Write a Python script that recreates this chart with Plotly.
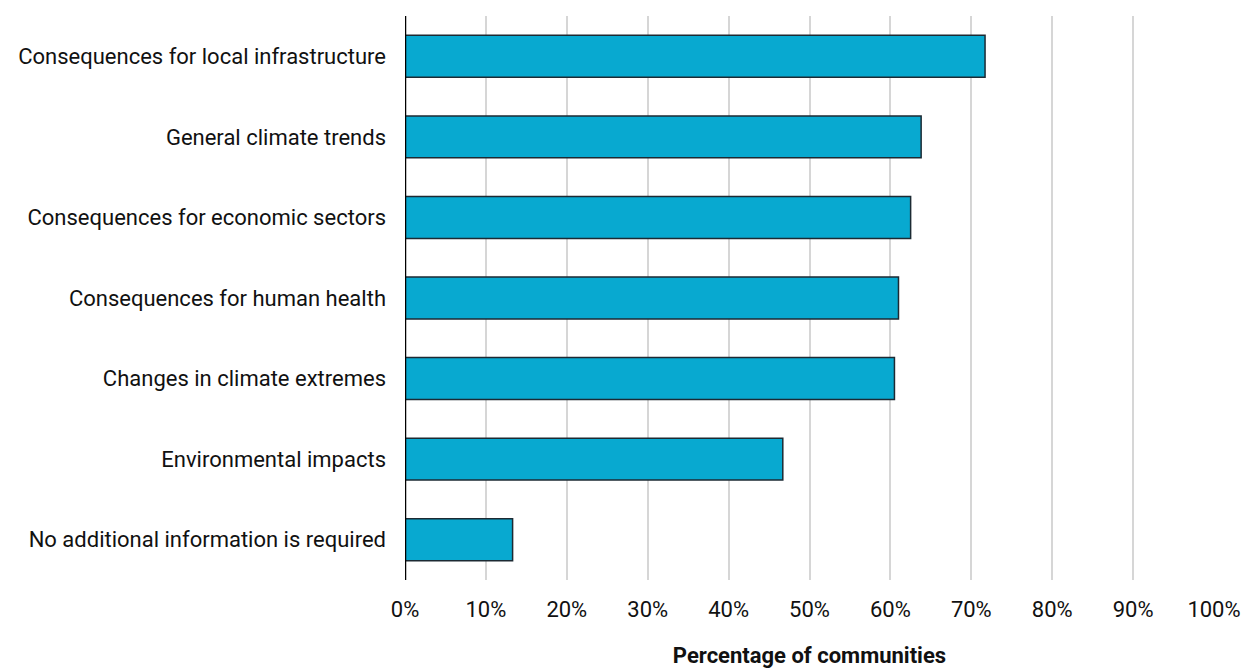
import plotly.graph_objects as go

categories = [
    "Consequences for local infrastructure",
    "General climate trends",
    "Consequences for economic sectors",
    "Consequences for human health",
    "Changes in climate extremes",
    "Environmental impacts",
    "No additional information is required",
]
values = [71.7, 63.8, 62.5, 61.0, 60.5, 46.7, 13.3]
tick_vals = [0, 10, 20, 30, 40, 50, 60, 70, 80, 90, 100]
tick_text = [f"{v}%" for v in tick_vals]

fig = go.Figure(go.Bar(
    y=categories,
    x=values,
    orientation="h",
    marker=dict(color="#08a9d0", line=dict(color="#1c2a33", width=1.5)),
))

FONT = "Roboto"
fig.update_layout(
    width=1247, height=668,
    margin=dict(l=405, r=33, t=16, b=88),
    paper_bgcolor="white", plot_bgcolor="white",
    bargap=0.48,
    showlegend=False,
    font=dict(family=FONT, size=22, color="#111111"),
    xaxis=dict(
        range=[0, 100], tickvals=tick_vals, ticktext=tick_text,
        showgrid=True, gridcolor="#d6d6d6", gridwidth=1.5,
        zeroline=False, showline=False, ticks="", ticklen=0,
        ticklabelstandoff=14, automargin=False,
        title=dict(text="<b>Percentage of communities</b>", font=dict(size=22, family=FONT), standoff=28),
        tickfont=dict(size=22),
    ),
    yaxis=dict(
        categoryorder="array", categoryarray=categories[::-1],
        showline=False, showgrid=False, ticks="", automargin=False,
        ticklabelstandoff=18,
        tickfont=dict(size=22),
    ),
    shapes=[dict(type="line", xref="x", yref="paper", x0=0, x1=0, y0=0, y1=1,
                 line=dict(color="black", width=2.5))],
)

fig.write_html("out.html")
